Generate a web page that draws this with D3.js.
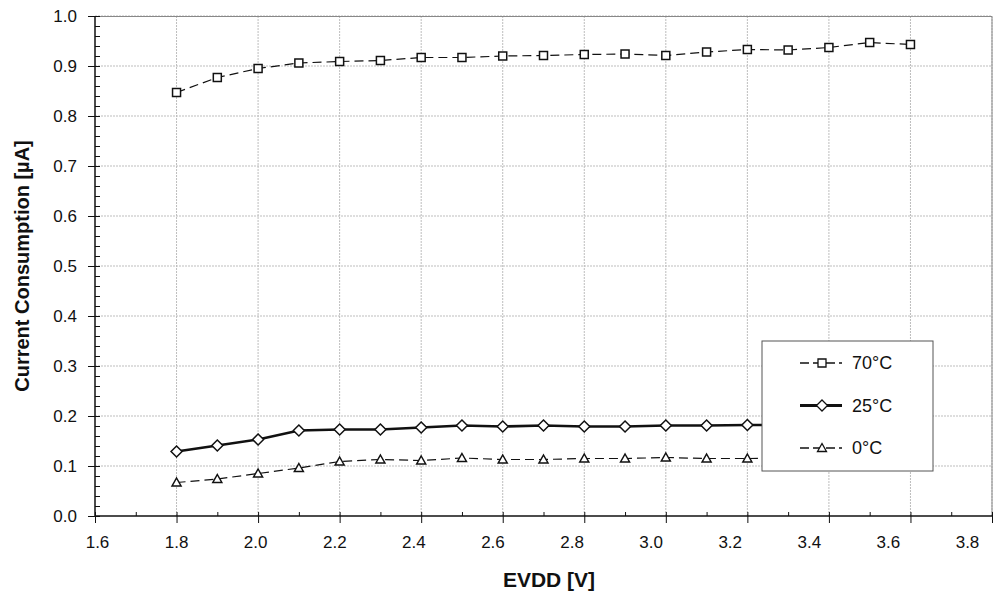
<!DOCTYPE html>
<html>
<head>
<meta charset="utf-8">
<script src="https://cdn.jsdelivr.net/npm/d3@7"></script>
<style>
  body { margin: 0; background: #fff; }
  text { font-family: "Liberation Sans", Arial, sans-serif; fill: #111; }
</style>
</head>
<body>
<script>
// values
var voltages = [1.8, 1.9, 2.0, 2.1, 2.2, 2.3, 2.4, 2.5, 2.6, 2.7, 2.8, 2.9, 3.0, 3.1, 3.2, 3.3, 3.4, 3.5, 3.6];
var temp70 = [0.847, 0.877, 0.895, 0.906, 0.909, 0.911, 0.917, 0.917, 0.920, 0.921, 0.923, 0.924, 0.921, 0.928, 0.933, 0.932, 0.937, 0.947, 0.943];
var temp25 = [0.129, 0.141, 0.153, 0.171, 0.173, 0.173, 0.177, 0.181, 0.179, 0.181, 0.179, 0.179, 0.181, 0.181, 0.182, 0.182, 0.183, 0.184, 0.184];
var temp0  = [0.067, 0.074, 0.085, 0.096, 0.109, 0.113, 0.111, 0.116, 0.113, 0.113, 0.115, 0.115, 0.117, 0.115, 0.115, 0.116, 0.116, 0.117, 0.117];
var xTicks = [1.6, 1.8, 2.0, 2.2, 2.4, 2.6, 2.8, 3.0, 3.2, 3.4, 3.6, 3.8];
var yTicks = [0, 0.1, 0.2, 0.3, 0.4, 0.5, 0.6, 0.7, 0.8, 0.9, 1.0];
var seriesNames = ["70°C", "25°C", "0°C"];

var margin = {top: 16, right: 6, bottom: 78, left: 95},
    width = 998 - margin.left - margin.right,
    height = 594 - margin.top - margin.bottom;

var x = d3.scaleLinear().domain([1.6, 3.8]).range([0, width]);
var y = d3.scaleLinear().domain([0, 1.0]).range([height, 0]);
// the tick labels sit a little tighter than the ticks themselves
var xLabel = d3.scaleLinear().domain([1.6, 3.8]).range([2, 872]);

var svg = d3.select("body").append("svg")
    .attr("width", 998)
    .attr("height", 594)
  .append("g")
    .attr("transform", "translate(" + margin.left + "," + margin.top + ")");

// grid
svg.append("g").selectAll("line")
  .data(xTicks.slice(1))
  .enter().append("line")
    .attr("x1", function(d) { return x(d); })
    .attr("x2", function(d) { return x(d); })
    .attr("y1", 0).attr("y2", height)
    .attr("stroke", "#bdbdbd").attr("stroke-dasharray", "2,1");
svg.append("g").selectAll("line")
  .data(yTicks.slice(1))
  .enter().append("line")
    .attr("x1", 0).attr("x2", width)
    .attr("y1", function(d) { return y(d); })
    .attr("y2", function(d) { return y(d); })
    .attr("stroke", "#bdbdbd").attr("stroke-dasharray", "2,1");

// plot frame top / right
svg.append("path")
    .attr("d", "M0,0.5H" + width + "V" + height)
    .attr("fill", "none").attr("stroke", "#888");

// series
var series = [
  {name: seriesNames[0], values: temp70, dash: "9,5", sw: 1.2, marker: "square"},
  {name: seriesNames[1], values: temp25, dash: null, sw: 2.6, marker: "diamond"},
  {name: seriesNames[2], values: temp0, dash: "9,5", sw: 1.2, marker: "triangle"}
];

var line = d3.line()
    .x(function(d) { return x(d[0]); })
    .y(function(d) { return y(d[1]); });

function markerPath(type) {
  if (type == "square") return "M-4,-4H4V4H-4Z";
  if (type == "diamond") return "M0,-5.5L5.5,0L0,5.5L-5.5,0Z";
  return "M0,-4.5L4.5,3.5H-4.5Z";
}

series.forEach(function(s) {
  var pts = voltages.map(function(v, i) { return [v, s.values[i]]; });
  svg.append("path")
      .datum(pts)
      .attr("d", line)
      .attr("fill", "none")
      .attr("stroke", "#111")
      .attr("stroke-width", s.sw)
      .attr("stroke-dasharray", s.dash);
  svg.append("g").selectAll("path")
    .data(pts)
    .enter().append("path")
      .attr("transform", function(d) { return "translate(" + x(d[0]) + "," + y(d[1]) + ")"; })
      .attr("d", markerPath(s.marker))
      .attr("fill", "#fff")
      .attr("stroke", "#111")
      .attr("stroke-width", 1.5);
});

// y axis
var yAxis = svg.append("g")
    .call(d3.axisLeft(y).tickValues(yTicks).tickSize(7).tickFormat(d3.format(".1f")));
yAxis.selectAll(".tick line").attr("x1", 5).attr("stroke", "#111");
yAxis.selectAll("text").attr("x", -18).style("font-size", "17px");
yAxis.select(".domain").attr("stroke", "#111").attr("stroke-width", 1.5).attr("d", "M0,0V" + height);
var yMinor = d3.range(0, 1.0001, 0.02).filter(function(d) { return Math.round(d * 50) % 5 != 0; });
svg.append("g")
    .call(d3.axisRight(y).tickValues(yMinor).tickSize(5).tickFormat(""))
  .call(function(g) { g.select(".domain").remove(); g.selectAll("line").attr("stroke", "#111"); });

// x axis
var xAxis = svg.append("g")
    .attr("transform", "translate(0," + height + ")")
    .call(d3.axisBottom(x).tickValues(xTicks).tickSize(7).tickFormat(d3.format(".1f")));
xAxis.selectAll(".tick line").attr("y1", -4).attr("stroke", "#111");
xAxis.selectAll("text")
    .attr("x", function(d) { return xLabel(d) - x(d); })
    .attr("y", 20)
    .style("font-size", "17px");
xAxis.select(".domain").attr("stroke", "#111").attr("stroke-width", 1.5).attr("d", "M0,0H" + width);
var xMinor = d3.range(1.7, 3.8, 0.2);
svg.append("g")
    .attr("transform", "translate(0," + height + ")")
    .call(d3.axisTop(x).tickValues(xMinor).tickSize(4).tickFormat(""))
  .call(function(g) { g.select(".domain").remove(); g.selectAll("line").attr("stroke", "#111"); });

d3.selectAll(".tick text").style("font-family", "'Liberation Sans', Arial, sans-serif").attr("fill", "#111");

// axis titles
svg.append("text")
    .attr("x", 454)
    .attr("y", height + 71)
    .style("text-anchor", "middle")
    .style("font-size", "21px")
    .style("font-weight", "bold")
    .text("EVDD [V]");
svg.append("text")
    .attr("transform", "translate(-66," + (height / 2) + ") rotate(-90)")
    .style("text-anchor", "middle")
    .style("font-size", "20px")
    .style("font-weight", "bold")
    .text("Current Consumption [µA]");

// legend
var legend = svg.append("g").attr("transform", "translate(667,325)");
legend.append("rect")
    .attr("width", 171).attr("height", 130)
    .attr("fill", "#fff").attr("stroke", "#555");
series.forEach(function(s, i) {
  var g = legend.append("g").attr("transform", "translate(0," + (22 + i * 42.5) + ")");
  g.append("line")
      .attr("x1", 38).attr("x2", 80)
      .attr("stroke", "#111")
      .attr("stroke-width", s.sw + 0.4)
      .attr("stroke-dasharray", s.dash ? "9,4" : null);
  g.append("path")
      .attr("transform", "translate(60,0)")
      .attr("d", markerPath(s.marker))
      .attr("fill", "#fff").attr("stroke", "#111").attr("stroke-width", 1.3);
  g.append("text")
      .attr("x", 90).attr("y", 6)
      .style("font-size", "18px")
      .text(s.name);
});
</script>
</body>
</html>
